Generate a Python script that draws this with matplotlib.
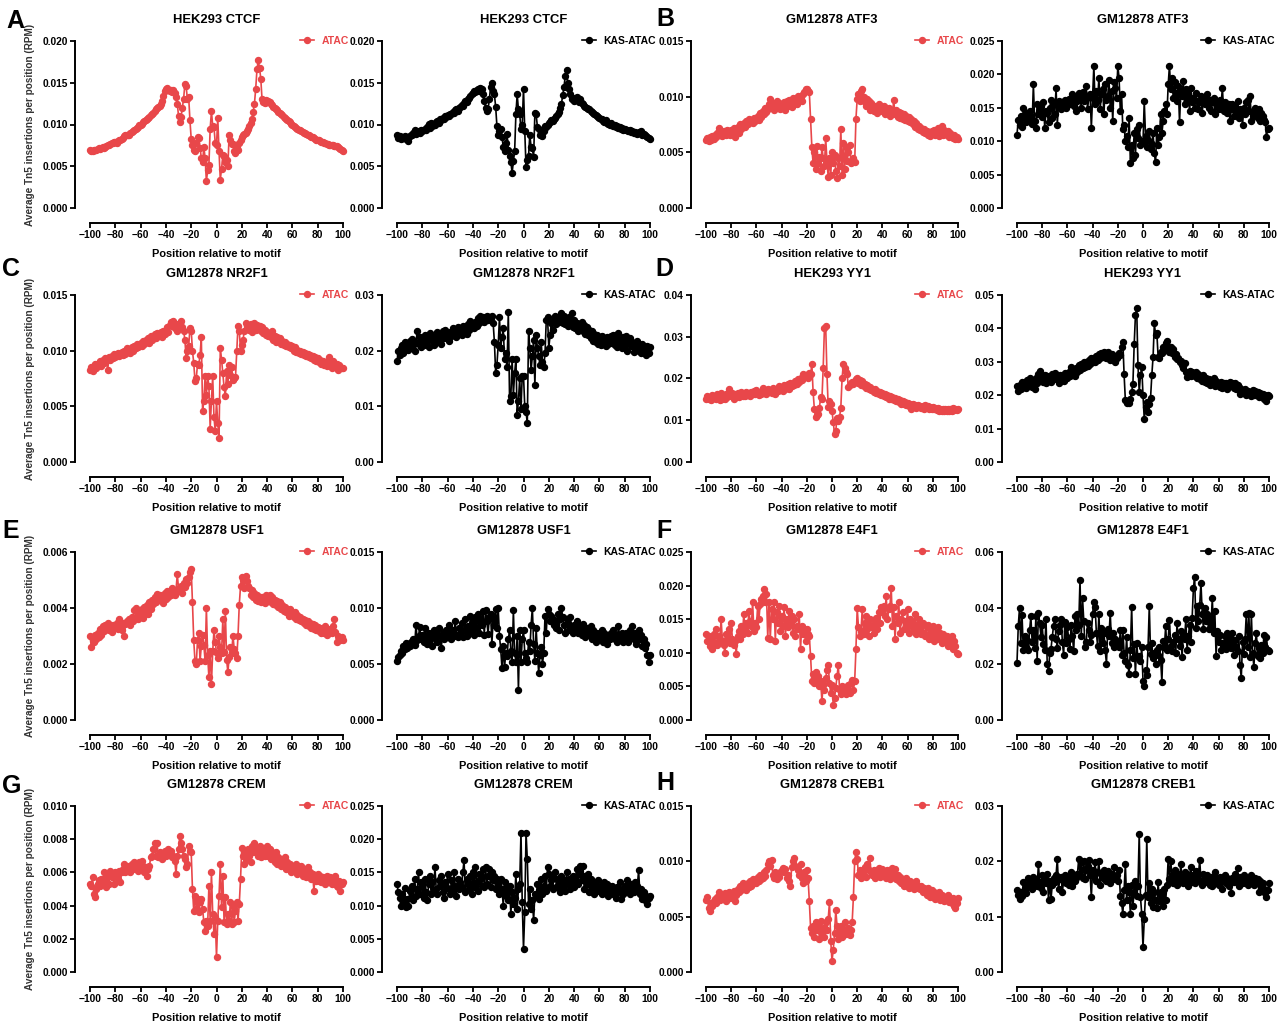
import matplotlib
matplotlib.use('Agg')
import matplotlib.pyplot as plt
import numpy as np
from matplotlib.lines import Line2D
from matplotlib.ticker import FormatStrFormatter

plt.rcParams['font.family'] = 'Liberation Sans'
plt.rcParams['font.weight'] = 'bold'

W, H = 1280, 1026
RED = '#E8474A'
BLACK = '#000000'

positions = list(range(-100, 101))

# values, units noted per panel below
ctcf_atac = [  # 1e-4 RPM
    69, 68, 68, 69, 70, 70, 71, 72, 71, 72,
    73, 72, 73, 74, 75, 76, 77, 78, 78, 79,
    79, 78, 80, 81, 82, 83, 84, 86, 87, 87,
    88, 88, 90, 91, 92, 94, 95, 96, 97, 99,
    100, 101, 103, 104, 105, 107, 108, 109, 111, 112,
    114, 116, 118, 120, 121, 122, 124, 128, 134, 140,
    143, 144, 141, 140, 141, 139, 141, 138, 133, 125,
    110, 103, 109, 120, 131, 148, 146, 130, 133, 105,
    83, 75, 70, 68, 78, 85, 84, 72, 60, 55,
    73, 60, 32, 45, 52, 95, 116, 98, 97, 78,
    75, 108, 68, 34, 47, 63, 62, 55, 57, 50,
    88, 82, 77, 77, 68, 66, 72, 70, 78, 82,
    85, 87, 89, 90, 92, 95, 98, 102, 107, 115,
    125, 143, 166, 177, 168, 155, 130, 127, 126, 129,
    127, 128, 127, 125, 123, 121, 120, 118, 117, 115,
    114, 112, 111, 109, 108, 106, 105, 104, 103, 101,
    100, 98, 97, 96, 95, 94, 93, 92, 91, 90,
    90, 89, 88, 87, 86, 85, 85, 84, 83, 82,
    82, 81, 80, 79, 79, 78, 78, 77, 77, 76,
    76, 75, 75, 74, 74, 74, 73, 72, 71, 70,
    68]
ctcf_kas = [  # 1e-4 RPM
    88, 84, 86, 83, 85, 84, 86, 83, 85, 80,
    86, 87, 88, 90, 94, 89, 91, 92, 90, 93,
    92, 94, 95, 94, 97, 101, 96, 102, 98, 100,
    99, 103, 104, 102, 107, 105, 108, 106, 110, 109,
    111, 110, 113, 112, 115, 114, 117, 119, 116, 120,
    121, 123, 122, 126, 128, 127, 130, 132, 134, 136,
    138, 140, 139, 141, 142, 140, 144, 143, 136, 128,
    120, 116, 118, 130, 145, 150, 140, 136, 121, 98,
    88, 92, 95, 85, 73, 68, 78, 89, 70, 62,
    55, 42, 56, 68, 113, 136, 118, 112, 95, 100,
    143, 92, 49, 58, 62, 88, 73, 72, 61, 114,
    112, 97, 95, 88, 90, 86, 92, 98, 97, 100,
    102, 103, 105, 104, 106, 108, 110, 113, 115, 120,
    125, 135, 145, 158, 165, 150, 142, 137, 130, 132,
    128, 131, 133, 129, 127, 130, 126, 124, 122, 121,
    120, 118, 119, 116, 115, 114, 112, 111, 110, 109,
    108, 106, 107, 104, 103, 105, 102, 101, 100, 102,
    99, 98, 100, 97, 98, 96, 97, 95, 96, 94,
    95, 93, 94, 92, 93, 91, 92, 90, 91, 90,
    89, 91, 90, 92, 88, 89, 87, 86, 85, 84,
    83]
atf3_atac = [  # 1e-4 RPM
    61, 63, 60, 64, 61, 65, 62, 66, 64, 67,
    72, 66, 68, 65, 69, 67, 66, 70, 68, 66,
    70, 68, 72, 64, 69, 73, 67, 75, 71, 74,
    76, 73, 78, 75, 80, 77, 79, 76, 81, 78,
    80, 83, 79, 85, 82, 87, 84, 90, 86, 89,
    93, 98, 90, 94, 88, 92, 96, 91, 94, 89,
    93, 90, 95, 88, 96, 92, 97, 94, 91, 99,
    95, 98, 93, 101, 97, 100, 96, 102, 104, 107,
    107, 105, 104, 80, 55, 40, 50, 35, 56, 40,
    46, 33, 55, 45, 38, 63, 42, 28, 45, 30,
    50, 40, 48, 33, 27, 45, 38, 71, 30, 58,
    35, 55, 42, 50, 57, 40, 43, 45, 41, 80,
    98, 102, 96, 105, 107, 100, 95, 92, 98, 96,
    88, 94, 90, 87, 92, 89, 85, 93, 88, 91,
    87, 92, 84, 89, 86, 90, 83, 88, 85, 97,
    84, 88, 82, 86, 81, 85, 80, 84, 79, 83,
    78, 82, 77, 80, 75, 78, 73, 76, 71, 74,
    70, 72, 68, 71, 67, 69, 66, 68, 65, 69,
    67, 70, 66, 68, 72, 65, 69, 74, 66, 70,
    68, 66, 69, 64, 67, 65, 63, 66, 62, 64,
    62]
atf3_kas = [  # 1e-4 RPM
    110, 132, 125, 138, 122, 150, 135, 128, 142, 131,
    145, 138, 126, 185, 130, 120, 155, 140, 148, 152,
    136, 158, 120, 145, 142, 128, 150, 162, 135, 157,
    141, 180, 125, 160, 152, 148, 158, 155, 161, 150,
    158, 163, 155, 162, 170, 152, 166, 145, 160, 172,
    168, 150, 173, 160, 165, 182, 148, 166, 170, 120,
    165, 213, 155, 175, 162, 195, 148, 170, 178, 140,
    185, 162, 168, 192, 150, 175, 130, 188, 180, 165,
    213, 195, 145, 170, 118, 125, 100, 108, 92, 135,
    67, 95, 75, 112, 80, 118, 105, 125, 95, 100,
    98, 160, 108, 92, 102, 115, 88, 96, 112, 82,
    69, 120, 95, 106, 140, 112, 130, 145, 155, 140,
    185, 213, 178, 195, 165, 188, 172, 160, 182, 128,
    175, 168, 190, 155, 178, 162, 170, 145, 180, 158,
    165, 150, 172, 160, 148, 158, 168, 142, 165, 155,
    160, 170, 150, 162, 145, 158, 165, 140, 160, 152,
    148, 162, 155, 180, 145, 158, 150, 142, 155, 130,
    148, 155, 138, 152, 145, 160, 135, 148, 142, 125,
    150, 140, 158, 162, 145, 168, 130, 138, 145, 150,
    140, 135, 148, 130, 142, 138, 132, 128, 107, 118,
    120]
nr2f1_atac = [  # 1e-4 RPM
    83, 85, 82, 86, 88, 84, 87, 89, 91, 86,
    92, 89, 93, 91, 83, 94, 92, 95, 93, 97,
    94, 96, 98, 95, 97, 99, 96, 100, 97, 102,
    99, 101, 98, 103, 100, 104, 102, 106, 103, 105,
    107, 104, 109, 106, 110, 108, 111, 107, 113, 110,
    112, 115, 111, 116, 113, 114, 117, 112, 118, 115,
    119, 121, 117, 123, 126, 122, 127, 120, 124, 118,
    122, 125, 127, 121, 118, 110, 93, 100, 104, 120,
    118, 100, 89, 73, 75, 88, 87, 96, 112, 46,
    55, 77, 60, 77, 68, 30, 55, 77, 40, 28,
    55, 35, 22, 102, 92, 80, 67, 59, 82, 70,
    87, 78, 85, 74, 75, 76, 100, 122, 118, 100,
    105, 110, 118, 125, 122, 120, 119, 124, 117, 121,
    125, 119, 123, 120, 122, 118, 121, 116, 119, 114,
    117, 113, 116, 112, 118, 110, 113, 108, 112, 109,
    111, 106, 109, 105, 108, 104, 106, 103, 105, 102,
    104, 100, 103, 99, 101, 98, 100, 97, 99, 96,
    98, 95, 97, 94, 96, 93, 95, 92, 94, 91,
    93, 90, 92, 88, 91, 87, 90, 86, 89, 94,
    88, 84, 91, 86, 85, 88, 83, 87, 85, 84,
    84]
nr2f1_kas = [  # 1e-4 RPM
    181, 199, 192, 205, 210, 196, 215, 208, 212, 202,
    218, 205, 221, 210, 200, 214, 236, 212, 225, 206,
    218, 210, 229, 215, 222, 206, 232, 219, 226, 210,
    225, 216, 234, 220, 228, 212, 236, 222, 238, 225,
    230, 218, 233, 226, 240, 228, 235, 224, 243, 230,
    238, 228, 245, 236, 242, 230, 248, 238, 254, 244,
    248, 240, 252, 244, 258, 250, 262, 254, 260, 252,
    258, 262, 255, 260, 258, 262, 250, 215, 160, 175,
    210, 260, 205, 225, 240, 185, 195, 170, 270, 110,
    118, 185, 120, 160, 185, 85, 110, 150, 95, 155,
    155, 100, 90, 70, 235, 205, 165, 190, 220, 138,
    228, 205, 190, 175, 215, 180, 170, 195, 255, 260,
    205, 228, 250, 238, 255, 262, 248, 258, 252, 260,
    268, 250, 262, 248, 256, 245, 260, 252, 268, 242,
    255, 240, 250, 236, 248, 242, 252, 235, 246, 230,
    243, 228, 238, 222, 235, 218, 230, 215, 228, 212,
    224, 210, 226, 214, 220, 208, 225, 212, 218, 226,
    214, 228, 210, 222, 206, 232, 215, 220, 205, 224,
    212, 226, 200, 218, 222, 208, 215, 198, 212, 205,
    218, 200, 210, 195, 212, 198, 205, 192, 208, 196,
    206]
yy1_atac = [  # 1e-4 RPM
    152, 158, 150, 156, 149, 160, 153, 157, 150, 162,
    155, 148, 165, 152, 158, 150, 162, 155, 176, 160,
    157, 165, 152, 163, 158, 166, 155, 160, 168, 157,
    163, 158, 167, 160, 165, 157, 168, 162, 170, 164,
    172, 165, 160, 168, 163, 178, 166, 170, 162, 175,
    168, 173, 165, 178, 170, 163, 176, 169, 182, 172,
    178, 170, 184, 175, 180, 186, 176, 190, 182, 188,
    185, 194, 188, 198, 192, 202, 196, 210, 205, 208,
    203, 200, 212, 210, 235, 168, 127, 108, 112, 115,
    130, 155, 150, 225, 322, 325, 210, 132, 145, 140,
    122, 95, 68, 75, 105, 98, 108, 130, 200, 235,
    225, 215, 210, 180, 185, 190, 192, 188, 195, 198,
    200, 190, 197, 185, 193, 182, 188, 178, 185, 175,
    180, 172, 176, 168, 174, 165, 170, 162, 168, 160,
    165, 158, 163, 155, 160, 152, 158, 150, 155, 148,
    153, 146, 150, 143, 148, 140, 146, 138, 144, 136,
    142, 135, 140, 127, 138, 133, 137, 130, 136, 132,
    135, 130, 134, 128, 137, 131, 133, 128, 132, 127,
    131, 126, 130, 124, 129, 123, 128, 122, 127, 121,
    126, 122, 128, 121, 126, 123, 129, 124, 127, 125,
    128]
yy1_kas = [  # 1e-4 RPM
    228, 212, 232, 220, 240, 225, 238, 222, 245, 230,
    250, 235, 226, 242, 220, 250, 238, 262, 272, 248,
    255, 240, 260, 236, 258, 246, 252, 240, 262, 250,
    265, 248, 256, 238, 260, 245, 258, 242, 266, 250,
    252, 270, 256, 284, 262, 275, 258, 282, 268, 290,
    275, 292, 280, 300, 285, 298, 288, 304, 292, 310,
    298, 312, 300, 318, 305, 322, 310, 326, 315, 330,
    320, 312, 328, 315, 305, 322, 310, 318, 300, 312,
    316, 325, 320, 345, 360, 262, 185, 178, 180, 178,
    190, 210, 235, 352, 440, 460, 290, 210, 260, 285,
    200, 128, 165, 180, 150, 175, 192, 260, 315, 415,
    380, 385, 315, 310, 330, 325, 345, 335, 355, 362,
    340, 330, 345, 325, 338, 315, 322, 308, 312, 298,
    302, 290, 280, 295, 268, 255, 262, 272, 258, 270,
    265, 258, 270, 252, 262, 248, 256, 244, 260, 240,
    252, 238, 248, 230, 244, 235, 250, 228, 242, 234,
    238, 226, 240, 222, 236, 228, 238, 220, 232, 240,
    228, 236, 222, 238, 218, 232, 226, 205, 220, 212,
    208, 218, 200, 214, 205, 210, 198, 215, 202, 212,
    200, 210, 195, 208, 198, 205, 190, 202, 182, 200,
    198]
usf1_atac = [  # 1e-5 RPM
    300, 262, 295, 280, 302, 290, 310, 298, 325, 305,
    335, 318, 340, 325, 345, 322, 335, 315, 340, 330,
    332, 345, 325, 360, 338, 320, 348, 300, 342, 352,
    348, 362, 340, 368, 355, 392, 400, 372, 360, 385,
    378, 395, 365, 402, 388, 410, 380, 420, 398, 430,
    415, 440, 420, 450, 432, 445, 428, 440, 418, 455,
    432, 462, 440, 458, 445, 470, 452, 448, 465, 520,
    470, 460, 480, 455, 490, 475, 502, 488, 512, 530,
    538, 420, 285, 210, 200, 285, 310, 210, 265, 305,
    268, 210, 400, 232, 152, 245, 130, 245, 320, 280,
    240, 222, 300, 262, 240, 360, 242, 390, 215, 170,
    225, 262, 240, 300, 255, 238, 220, 300, 412, 478,
    512, 500, 470, 515, 495, 480, 472, 448, 465, 440,
    455, 430, 448, 425, 440, 420, 438, 432, 418, 445,
    430, 425, 445, 420, 438, 415, 428, 410, 425, 405,
    420, 398, 410, 390, 402, 385, 398, 372, 395, 378,
    380, 368, 385, 362, 375, 358, 368, 352, 362, 345,
    358, 340, 352, 335, 348, 330, 342, 325, 338, 322,
    332, 318, 328, 312, 325, 310, 335, 305, 320, 315,
    325, 310, 335, 360, 315, 280, 300, 292, 285, 295,
    285]
usf1_kas = [  # 1e-4 RPM
    53, 56, 58, 62, 60, 66, 63, 69, 64, 68,
    66, 70, 68, 72, 67, 85, 71, 75, 83, 72,
    76, 70, 82, 74, 68, 78, 72, 75, 66, 80,
    73, 77, 70, 82, 75, 64, 78, 72, 76, 80,
    74, 85, 78, 72, 80, 75, 88, 76, 74, 82,
    76, 87, 74, 80, 90, 75, 84, 78, 93, 80,
    88, 76, 92, 82, 95, 78, 90, 85, 97, 76,
    98, 88, 77, 92, 95, 68, 90, 85, 99, 82,
    100, 75, 63, 46, 66, 47, 60, 57, 72, 80,
    62, 52, 98, 60, 52, 75, 27, 80, 52, 72,
    80, 60, 55, 52, 70, 62, 85, 100, 68, 53,
    82, 60, 42, 58, 65, 50, 60, 93, 78, 99,
    95, 88, 93, 90, 85, 88, 82, 95, 80, 90,
    100, 92, 85, 78, 90, 86, 80, 92, 84, 78,
    85, 80, 88, 78, 84, 82, 76, 86, 80, 74,
    82, 78, 76, 84, 72, 80, 76, 70, 78, 74,
    76, 72, 80, 70, 78, 74, 68, 76, 72, 78,
    74, 80, 72, 76, 70, 84, 75, 72, 78, 70,
    74, 78, 72, 70, 80, 76, 84, 72, 78, 68,
    74, 80, 72, 76, 66, 72, 64, 68, 58, 52,
    58]
e4f1_atac = [  # 1e-4 RPM
    128, 118, 125, 110, 122, 105, 128, 115, 135, 112,
    125, 120, 150, 118, 112, 100, 128, 120, 135, 115,
    145, 120, 112, 118, 98, 125, 132, 120, 140, 128,
    158, 135, 145, 130, 162, 148, 140, 175, 132, 145,
    138, 170, 150, 172, 180, 185, 195, 175, 188, 122,
    175, 120, 165, 150, 175, 118, 160, 145, 170, 132,
    155, 140, 168, 125, 150, 138, 162, 145, 155, 130,
    150, 125, 140, 135, 158, 105, 140, 128, 135, 118,
    135, 128, 125, 95, 58, 68, 55, 72, 60, 65,
    50, 58, 28, 52, 45, 62, 75, 82, 55, 40,
    52, 22, 32, 48, 65, 82, 45, 38, 50, 42,
    48, 38, 45, 52, 40, 55, 60, 45, 58, 105,
    167, 138, 125, 132, 165, 128, 145, 155, 135, 125,
    150, 140, 138, 130, 145, 152, 135, 160, 145, 168,
    160, 170, 155, 185, 150, 165, 170, 197, 140, 168,
    120, 155, 145, 175, 130, 150, 160, 135, 148, 142,
    165, 130, 150, 140, 145, 135, 158, 128, 142, 150,
    135, 128, 145, 130, 125, 138, 142, 120, 135, 128,
    140, 118, 132, 125, 138, 120, 130, 115, 128, 122,
    118, 125, 110, 122, 115, 125, 105, 118, 110, 100,
    98]
e4f1_kas = [  # 1e-4 RPM
    205, 335, 400, 275, 375, 250, 300, 262, 285, 250,
    320, 370, 280, 320, 258, 370, 212, 383, 345, 298,
    340, 270, 250, 360, 200, 175, 240, 255, 298, 335,
    362, 290, 258, 318, 340, 362, 280, 232, 350, 275,
    332, 290, 255, 340, 300, 245, 370, 320, 380, 340,
    500, 300, 435, 355, 262, 280, 345, 320, 280, 305,
    378, 420, 405, 310, 265, 380, 245, 330, 275, 310,
    250, 200, 325, 300, 383, 275, 310, 260, 290, 280,
    275, 260, 320, 232, 320, 240, 212, 295, 195, 165,
    250, 405, 220, 270, 165, 275, 220, 230, 210, 260,
    140, 120, 178, 160, 260, 408, 235, 275, 220, 240,
    200, 250, 232, 262, 215, 135, 282, 262, 335, 250,
    290, 358, 265, 248, 278, 302, 240, 345, 290, 265,
    318, 225, 305, 290, 360, 250, 300, 340, 280, 365,
    470, 512, 330, 408, 355, 410, 490, 380, 325, 400,
    355, 380, 325, 362, 340, 435, 310, 390, 230, 318,
    280, 305, 250, 275, 262, 300, 255, 310, 270, 295,
    258, 310, 232, 285, 260, 245, 300, 195, 150, 280,
    235, 290, 380, 260, 382, 225, 378, 240, 190, 275,
    310, 230, 258, 222, 268, 240, 305, 262, 295, 250,
    245]
crem_atac = [  # 1e-5 RPM
    530, 520, 570, 470, 450, 500, 530, 555, 520, 560,
    540, 600, 560, 510, 580, 530, 610, 570, 590, 530,
    600, 580, 560, 610, 540, 600, 620, 650, 600, 630,
    610, 640, 600, 650, 620, 660, 630, 650, 610, 660,
    630, 670, 640, 600, 630, 580, 620, 640, 690, 700,
    740, 780, 700, 780, 690, 720, 700, 680, 710, 730,
    700, 720, 740, 710, 730, 690, 700, 670, 590, 700,
    740, 820, 780, 740, 700, 680, 630, 650, 760, 730,
    720, 500, 370, 460, 380, 440, 360, 420, 440, 380,
    300, 250, 310, 280, 520, 310, 600, 350, 230, 330,
    90, 310, 460, 650, 390, 580, 300, 450, 290, 350,
    310, 420, 290, 400, 300, 370, 420, 310, 410, 560,
    750, 700, 650, 720, 680, 740, 700, 660, 760, 720,
    780, 740, 720, 700, 760, 690, 720, 750, 700, 740,
    760, 700, 740, 680, 720, 690, 660, 720, 650, 690,
    680, 640, 670, 650, 690, 620, 660, 630, 650, 600,
    640, 610, 630, 650, 590, 630, 600, 640, 580, 620,
    610, 570, 630, 580, 600, 560, 590, 490, 580, 550,
    590, 550, 580, 540, 570, 560, 530, 580, 550, 540,
    570, 530, 560, 540, 580, 520, 510, 550, 490, 530,
    540]
crem_kas = [  # 1e-4 RPM
    133, 120, 112, 100, 118, 103, 126, 98, 110, 100,
    122, 112, 130, 108, 140, 115, 125, 150, 118, 135,
    128, 112, 140, 120, 108, 132, 145, 118, 135, 122,
    158, 125, 118, 138, 130, 145, 120, 112, 135, 128,
    148, 125, 118, 138, 122, 150, 130, 115, 140, 125,
    135, 128, 150, 168, 120, 140, 132, 125, 145, 118,
    150, 128, 158, 135, 122, 148, 140, 130, 155, 128,
    158, 132, 145, 155, 128, 150, 138, 145, 125, 140,
    132, 118, 140, 125, 100, 135, 115, 128, 108, 130,
    88, 120, 102, 112, 148, 95, 125, 132, 210, 105,
    35, 90, 210, 170, 102, 125, 95, 108, 78, 118,
    115, 132, 110, 125, 140, 118, 130, 145, 122, 158,
    148, 130, 138, 125, 142, 150, 128, 140, 135, 120,
    145, 128, 138, 122, 150, 132, 140, 125, 135, 145,
    128, 140, 155, 132, 148, 160, 138, 160, 125, 145,
    132, 148, 120, 140, 128, 135, 118, 130, 125, 138,
    122, 130, 118, 128, 135, 120, 132, 115, 128, 122,
    130, 118, 125, 112, 128, 120, 135, 110, 125, 118,
    130, 122, 138, 125, 118, 132, 128, 120, 135, 125,
    130, 153, 118, 125, 110, 120, 108, 115, 103, 112,
    114]
creb1_atac = [  # 1e-4 RPM
    65, 68, 58, 55, 62, 60, 64, 66, 62, 68,
    72, 65, 70, 68, 66, 71, 64, 69, 72, 67,
    70, 68, 73, 64, 70, 75, 72, 78, 74, 80,
    76, 79, 74, 80, 77, 82, 78, 84, 80, 83,
    80, 86, 82, 88, 84, 85, 90, 87, 92, 98,
    100, 96, 101, 88, 85, 90, 84, 88, 86, 90,
    92, 94, 90, 93, 85, 88, 82, 78, 95, 100,
    103, 96, 95, 92, 88, 98, 85, 80, 90, 82,
    92, 85, 64, 40, 35, 42, 32, 45, 38, 44,
    30, 46, 35, 40, 32, 45, 38, 48, 63, 28,
    10, 20, 35, 56, 42, 30, 36, 42, 32, 38,
    45, 34, 36, 40, 33, 38, 45, 68, 100, 108,
    102, 88, 92, 85, 90, 88, 95, 86, 98, 92,
    103, 90, 88, 92, 85, 90, 88, 94, 86, 92,
    93, 88, 90, 85, 92, 88, 84, 90, 94, 86,
    93, 84, 88, 82, 86, 80, 84, 78, 82, 85,
    80, 76, 82, 78, 80, 75, 79, 82, 76, 78,
    75, 78, 72, 76, 74, 70, 76, 72, 68, 74,
    70, 72, 66, 70, 68, 72, 65, 70, 67, 64,
    68, 65, 70, 63, 66, 62, 67, 60, 58, 62,
    67]
creb1_kas = [  # 1e-4 RPM
    148, 140, 132, 145, 138, 162, 150, 142, 155, 170,
    158, 165, 150, 172, 160, 168, 155, 195, 162, 152,
    175, 145, 168, 160, 178, 130, 165, 132, 158, 170,
    162, 175, 205, 150, 168, 172, 145, 165, 175, 160,
    172, 158, 168, 180, 155, 175, 165, 170, 178, 205,
    175, 198, 170, 200, 168, 185, 192, 202, 176, 135,
    185, 172, 198, 165, 180, 200, 158, 178, 170, 185,
    172, 165, 182, 175, 160, 178, 168, 190, 170, 175,
    165, 185, 138, 125, 105, 148, 195, 130, 155, 145,
    105, 158, 120, 145, 165, 138, 155, 250, 135, 105,
    45, 95, 140, 240, 135, 160, 125, 150, 118, 145,
    130, 115, 162, 128, 145, 138, 120, 150, 130, 158,
    205, 168, 200, 175, 160, 185, 170, 158, 178, 165,
    195, 172, 160, 180, 165, 178, 155, 170, 190, 162,
    175, 160, 182, 168, 175, 203, 165, 158, 178, 170,
    162, 175, 168, 158, 172, 155, 165, 180, 160, 170,
    158, 172, 165, 150, 168, 175, 160, 170, 155, 165,
    142, 170, 162, 178, 165, 188, 155, 172, 168, 160,
    175, 162, 170, 158, 168, 160, 175, 165, 158, 170,
    162, 168, 145, 165, 155, 160, 150, 142, 135, 148,
    160]

titles = ['HEK293 CTCF', 'GM12878 ATF3', 'GM12878 NR2F1', 'HEK293 YY1',
          'GM12878 USF1', 'GM12878 E4F1', 'GM12878 CREM', 'GM12878 CREB1']
letters = ['A', 'B', 'C', 'D', 'E', 'F', 'G', 'H']

# (values, unit, ymax, ystep, decimals) for ATAC then KAS-ATAC of each factor
series = [
    [(ctcf_atac, 1e-4, 0.020, 0.005, 3), (ctcf_kas, 1e-4, 0.020, 0.005, 3)],
    [(atf3_atac, 1e-4, 0.015, 0.005, 3), (atf3_kas, 1e-4, 0.025, 0.005, 3)],
    [(nr2f1_atac, 1e-4, 0.015, 0.005, 3), (nr2f1_kas, 1e-4, 0.03, 0.01, 2)],
    [(yy1_atac, 1e-4, 0.04, 0.01, 2), (yy1_kas, 1e-4, 0.05, 0.01, 2)],
    [(usf1_atac, 1e-5, 0.006, 0.002, 3), (usf1_kas, 1e-4, 0.015, 0.005, 3)],
    [(e4f1_atac, 1e-4, 0.025, 0.005, 3), (e4f1_kas, 1e-4, 0.06, 0.02, 2)],
    [(crem_atac, 1e-5, 0.010, 0.002, 3), (crem_kas, 1e-4, 0.025, 0.005, 3)],
    [(creb1_atac, 1e-4, 0.015, 0.005, 3), (creb1_kas, 1e-4, 0.03, 0.01, 2)],
]

# pixel layout: plot boxes (left, top, right, bottom) for each of the 16 axes
row_tb = [(41, 208), (295, 462), (552, 720), (806, 972)]
col_lr = [(90, 343), (397, 650), (706, 958), (1017, 1269)]
letter_xy = [(6, 28), (656, 26), (2, 276), (655, 276),
             (2, 538), (656, 538), (2, 793), (656, 790)]

fig = plt.figure(figsize=(W / 100, H / 100), dpi=100)

for k, (title, pair) in enumerate(zip(titles, series)):
    row = k // 2
    for j, (vals, unit, ymax, ystep, dec) in enumerate(pair):
        if len(vals) != len(positions):
            raise ValueError(f'{title} {j}: {len(vals)} values')
        col = (k % 2) * 2 + j
        L, R = col_lr[col]
        T, B = row_tb[row]
        ax = fig.add_axes([L / W, 1 - B / H, (R - L) / W, (B - T) / H])
        color = RED if j == 0 else BLACK
        label = 'ATAC' if j == 0 else 'KAS-ATAC'
        y = np.array(vals) * unit
        ax.plot(positions, y, '-o', color=color, lw=1.2, ms=4.3,
                clip_on=False, zorder=3)
        ax.set_xlim(-100, 100)
        ax.set_ylim(0, ymax)
        ax.set_xticks(range(-100, 101, 20))
        ax.set_yticks(np.arange(0, ymax + ystep / 2, ystep))
        ax.yaxis.set_major_formatter(FormatStrFormatter(f'%.{dec}f'))
        for s in ['top', 'right']:
            ax.spines[s].set_visible(False)
        for s in ['left', 'bottom']:
            ax.spines[s].set_linewidth(1.4)
            ax.spines[s].set_position(('outward', 11))
        ax.tick_params(width=1.3, length=3.5, labelsize=7.4, pad=1.5)
        for t in ax.get_xticklabels() + ax.get_yticklabels():
            t.set_fontweight('bold')
        hpx = B - T
        ax.text(0.5, 1 + 21 / hpx, title, transform=ax.transAxes,
                ha='center', va='center', fontsize=9.4, fontweight='bold')
        ax.text(0.5, -46 / hpx, 'Position relative to motif',
                transform=ax.transAxes, ha='center', va='center',
                fontsize=7.9, fontweight='bold')
        h = Line2D([], [], color=color, marker='o', lw=1.2, ms=4.3)
        leg = ax.legend([h], [label], loc='center right',
                        bbox_to_anchor=(1 + 6 / (R - L), 1.0), frameon=False,
                        borderaxespad=0, borderpad=0, handlelength=1.4,
                        handletextpad=0.7,
                        prop={'size': 7.5, 'weight': 'bold'})
        for t in leg.get_texts():
            t.set_color(color)
        if col == 0:
            fig.text(30 / W, 1 - (T + B) / 2 / H,
                     'Average Tn5 insertions per position (RPM)',
                     rotation=90, ha='center', va='center', fontsize=7.2,
                     fontweight='bold', color='#333333')
    lx, ly = letter_xy[k]
    fig.text(lx / W, 1 - ly / H, letters[k], fontsize=18, fontweight='bold',
             ha='left', va='baseline')

fig.savefig('out.png', dpi=100)
